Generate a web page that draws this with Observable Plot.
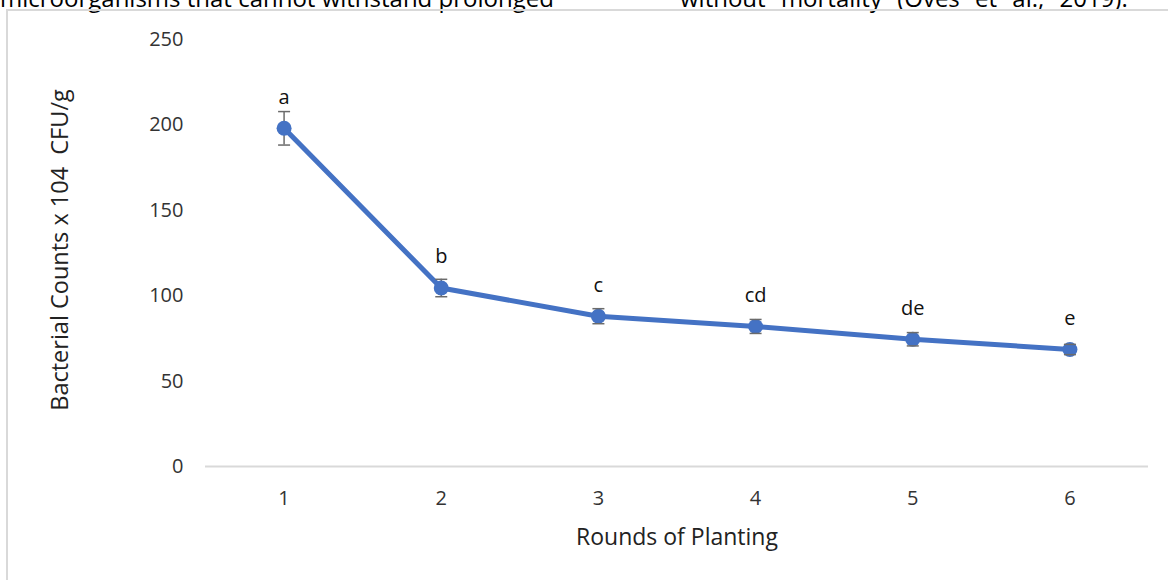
<!DOCTYPE html>
<html>
<head>
<meta charset="utf-8">
<script src="https://cdn.jsdelivr.net/npm/d3@7"></script>
<script src="https://cdn.jsdelivr.net/npm/@observablehq/plot@0.6"></script>
<style>
  html, body { margin: 0; padding: 0; background: #fff; }
  #wrap { position: relative; width: 1168px; height: 580px; overflow: hidden; font-family: "Open Sans", sans-serif; }
  .top { position: absolute; top: -14px; font-size: 24px; line-height: 24px; color: #000; white-space: nowrap; }
  #box { position: absolute; left: 6px; top: 9px; width: 1200px; height: 600px; border-left: 2px solid #d9d9d9; border-top: 2px solid #d9d9d9; }
  #chart { position: absolute; left: 0; top: 0; }
</style>
</head>
<body>
<div id="wrap">
  <div class="top" style="left:0px">microorganisms that cannot withstand prolonged</div>
  <div class="top" style="left:680px; word-spacing:9px">without mortality (Oves et al., 2019).</div>
  <div id="box"></div>
  <div id="chart"></div>
</div>
<script>
const rounds = [1, 2, 3, 4, 5, 6];
const counts = [198, 104.5, 88, 82, 74.5, 68.5];
const errors = [9.8, 5.1, 4.4, 4.1, 3.9, 3.0];
const letters = ["a", "b", "c", "cd", "de", "e"];
const yTicks = [0, 50, 100, 150, 200, 250];
const xTitle = "Rounds of Planting";
const yTitle = "Bacterial Counts x 104  CFU/g";

const data = rounds.map((r, i) => ({round: r, count: counts[i], err: errors[i], letter: letters[i]}));

const capSymbol = {
  draw(ctx, size) {
    ctx.moveTo(-6, 0);
    ctx.lineTo(6, 0);
  }
};

const blue = "#4472C4";
const grey = "#6b6b6b";

const chart = Plot.plot({
  width: 1168,
  height: 580,
  marginLeft: 205,
  marginRight: 20,
  marginTop: 39,
  marginBottom: 114,
  style: {fontFamily: "Open Sans, sans-serif", background: "transparent", color: "#333"},
  x: {domain: [0.5, 6.5]},
  y: {domain: [0, 250]},
  marks: [
    Plot.ruleY([0], {stroke: "#d9d9d9", strokeWidth: 2}),
    Plot.axisY({ticks: yTicks, tickSize: 0, tickPadding: 22, fontSize: 20, label: null, fill: "#333"}),
    Plot.axisX({ticks: rounds, tickFormat: "d", tickSize: 0, tickPadding: 24, fontSize: 20, label: null, fill: "#333"}),
    Plot.ruleX(data, {x: "round", y1: d => d.count - d.err, y2: d => d.count + d.err, stroke: grey, strokeWidth: 1.5}),
    Plot.line(data, {x: "round", y: "count", stroke: blue, strokeWidth: 5}),
    Plot.dot(data, {x: "round", y: "count", r: 7.5, fill: blue, stroke: null}),
    Plot.dot(data, {x: "round", y: d => d.count + d.err, symbol: capSymbol, stroke: grey, strokeWidth: 1.5, fill: "none", r: 5}),
    Plot.dot(data, {x: "round", y: d => d.count - d.err, symbol: capSymbol, stroke: grey, strokeWidth: 1.5, fill: "none", r: 5}),
    Plot.text(data, {x: "round", y: "count", text: "letter", dy: -31, fontSize: 20, fill: "#111", lineAnchor: "middle"}),
    Plot.text([xTitle], {frameAnchor: "bottom", dy: 71, fontSize: 23, fill: "#222", lineAnchor: "middle"}),
    Plot.text([yTitle], {frameAnchor: "left", dx: -145, dy: -3, rotate: -90, fontSize: 23.5, fill: "#222", textAnchor: "middle", lineAnchor: "middle"})
  ]
});
document.getElementById("chart").appendChild(chart);
</script>
</body>
</html>
